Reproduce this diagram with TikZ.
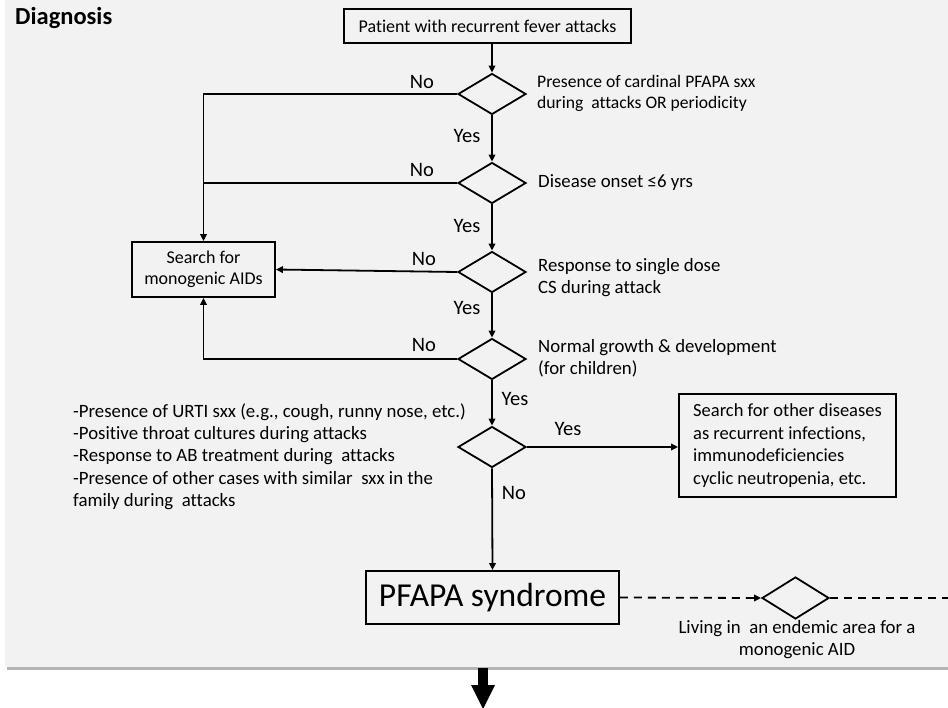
\documentclass[tikz,border=0pt]{standalone}
\usepackage{fontspec}
\setmainfont{Carlito}[Ligatures=NoCommon]
\usetikzlibrary{shapes.geometric,arrows.meta}
\definecolor{panel}{HTML}{F2F2F2}
\definecolor{shadow}{HTML}{B4B4B4}
\begin{document}
\begin{tikzpicture}[x=1pt,y=-1pt,
  every node/.style={font=\fontsize{18.8}{22}\selectfont, inner sep=0pt},
  box/.style={draw, line width=1.8pt, align=center},
  dia/.style={draw, diamond, line width=1.8pt, minimum width=68pt, minimum height=41pt, inner sep=0pt},
  desc/.style={anchor=west, align=left},
  yn/.style={font=\fontsize{20.5}{22}\selectfont},
  conn/.style={line width=1.8pt, -{Triangle[length=7pt,width=6.5pt]}},
  plain/.style={line width=1.8pt},
  dashline/.style={line width=1.8pt, dash pattern=on 8pt off 6pt},
]
\useasboundingbox (0,0) rectangle (948,708);
\fill[white] (0,0) rectangle (948,708);
\fill[shadow] (7,2) rectangle (948,670);
\fill[panel] (5,0) rectangle (948,667);

\node[anchor=base west, font=\bfseries\fontsize{24.5}{28}\selectfont] (title) at (15,25) {Diagnosis};

\node[box, minimum width=287pt, minimum height=34pt, font=\fontsize{18}{22}\selectfont] (start) at (487.5,26) {Patient with recurrent fever attacks};

\node[dia] (d1) at (492,94) {};
\node[dia] (d2) at (492,183) {};
\node[dia] (d3) at (492,272) {};
\node[dia] (d4) at (492,359) {};
\node[dia] (d5) at (492,447) {};
\node[dia, minimum width=67pt, minimum height=42pt] (d6) at (795.5,598) {};

\node[desc, font=\fontsize{17.6}{21}\selectfont] (t1) at (537,93) {Presence of cardinal PFAPA sxx\\during~ attacks OR periodicity};
\node[desc] (t2) at (538,183) {Disease onset ≤6 yrs};
\node[desc] (t3) at (538,278) {Response to single dose\\CS during attack};
\node[desc] (t4) at (538,358) {Normal growth \& development\\(for children)};
\node[desc, font=\fontsize{18.8}{22.3}\selectfont] (t5) at (73,456.5) {-Presence of URTI sxx (e.g., cough, runny nose, etc.)\\-Positive throat cultures during attacks\\-Response to AB treatment during~ attacks\\-Presence of other cases with similar~ sxx in the\\family during~ attacks};
\node[align=center] (t6) at (797,640) {Living in~ an endemic area for a\\monogenic AID};

\node[box, minimum width=143pt, minimum height=55pt, font=\fontsize{18}{21}\selectfont] (search) at (203.5,269.5) {Search for\\monogenic AIDs};
\node[box, minimum width=217pt, minimum height=103pt, align=left, font=\fontsize{18.5}{22.7}\selectfont] (other) at (787.5,445.5) {Search for other diseases\\as recurrent infections,\\immunodeficiencies\\cyclic neutropenia, etc.};
\node[box, minimum width=253pt, minimum height=53pt, font=\fontsize{33.5}{36}\selectfont] (pfapa) at (492.5,597.5) {PFAPA syndrome};

\node[yn] (n1) at (422,82) {No};
\node[yn] (y1) at (467,136) {Yes};
\node[yn] (n2) at (422,170) {No};
\node[yn] (y2) at (467,226) {Yes};
\node[yn] (n3) at (424,259) {No};
\node[yn] (y3) at (467,308) {Yes};
\node[yn] (n4) at (424,345) {No};
\node[yn] (y4) at (515,399) {Yes};
\node[yn] (y5) at (568,429) {Yes};
\node[yn] (n5) at (514,493) {No};

\draw[conn] (start.south -| d1.north) -- (d1.north);
\draw[conn] (d1.south) -- (d2.north);
\draw[conn] (d2.south) -- (d3.north);
\draw[conn] (d3.south) -- (d4.north);
\draw[conn] (d4.south) -- (d5.north);
\draw[conn] (d5.south) -- (pfapa.north);
\draw[conn] (d1.west) -| (search.north);
\draw[plain] (d2.west) -- (d2.west -| search.north);
\draw[conn] (d3.west) -- (search.east);
\draw[conn] (d4.west) -| (search.south);
\draw[conn] (d5.east) -- (d5.east -| other.west);
\draw[dashline, -{Triangle[length=7pt,width=6.5pt]}] (pfapa.east) -- (d6.west);
\coordinate (rend) at (948,598);
\draw[dashline] (d6.east) -- (rend);

\fill (478,668) rectangle (488,686);
\fill (471,685) -- (495,685) -- (483,709) -- cycle;
\end{tikzpicture}
\end{document}
